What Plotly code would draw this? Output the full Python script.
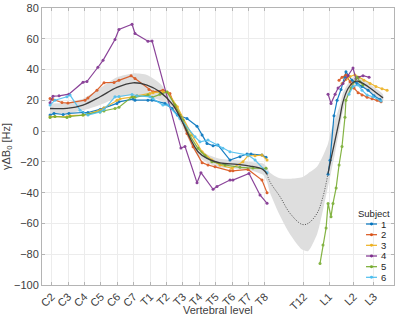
import plotly.graph_objects as go

# x positions in vertebral-level units (C2 = 0)
tick_pos = [0, 1, 2, 3, 4, 5, 6, 7, 8, 9, 10, 11, 12, 13, 15.38, 16.91, 18.42, 19.65]
tick_lab = ["C2", "C3", "C4", "C5", "C6", "C7", "T1", "T2", "T3", "T4", "T5", "T6", "T7", "T8",
            "T12", "L1", "L2", "L3"]

# ---- subject 1
s1_x_a = [-0.10, 0.14, 0.70, 1.05, 1.91, 2.21, 2.95, 3.19, 3.98, 4.10, 4.96, 5.08, 5.87, 6.12, 6.91,
          7.34, 7.66, 8.25, 8.86, 9.17, 9.47, 9.84, 10.14, 10.87, 11.48, 11.91, 12.15, 12.82, 13.07]
s1_y_a = [10.4, 11.5, 10.8, 11.5, 12.1, 12.1, 14.1, 15.0, 18.0, 19.0, 20.8, 20.1, 20.1, 20.1, 18.0,
          14.7, 10.4, 8.2, 3.2, -2.6, -8.0, -9.5, -9.1, -18.8, -16.7, -14.9, -14.9, -15.6, -17.0]
s1_x_b = [16.85, 16.97, 17.21, 17.40, 17.64, 17.88, 17.94, 18.31, 18.62, 18.92, 19.29, 19.65, 20.02]
s1_y_b = [-28, -19, 10, 20, 27, 35, 38.5, 33, 31, 29, 26.5, 23, 20.5]

# ---- subject 2
s2_x_a = [-0.10, 0.08, 0.63, 0.99, 2.03, 2.21, 2.76, 3.19, 3.80, 4.10, 4.84, 5.08, 5.93, 6.18, 6.78,
          7.21, 7.52, 7.82, 8.25, 8.62, 9.17, 9.53, 9.96, 10.87, 11.05, 11.97, 12.82, 13.13]
s2_y_a = [21.2, 20.5, 18.6, 18.2, 20.1, 21.5, 26.6, 31.5, 31.6, 33.0, 35.9, 34.2, 27.0, 25.5, 26.6,
          24.5, 15.8, 10.4, -1.5, -10.2, -20.5, -22.0, -23.2, -25.8, -25.8, -24.9, -31.8, -40.0]
s2_x_b = [17.52, 17.70, 17.94, 18.19, 18.43, 18.68, 18.92, 19.23, 19.53, 19.84, 20.08]
s2_y_b = [33, 35, 36.5, 32, 28, 25, 23.5, 22, 21, 20, 19]

# ---- subject 3
s3_x_a = [-0.10, 0.20, 0.93, 1.12, 1.91, 2.21, 2.95, 3.19, 3.98, 4.17, 4.96, 5.20, 5.99, 6.18, 6.78,
          7.09, 7.66, 8.55, 9.17, 9.77, 10.26, 10.99, 11.66, 11.97, 12.40, 12.82, 13.13]
s3_y_a = [9.3, 9.5, 9.3, 10.0, 10.4, 11.0, 13.6, 15.0, 20.1, 21.0, 22.3, 23.0, 24.5, 25.0, 25.5,
          25.0, 15.8, -2.6, -13.4, -18.8, -22.0, -24.2, -19.9, -16.0, -16.0, -15.6, -18.8]
s3_x_b = [17.70, 17.94, 18.19, 18.49, 18.74, 19.04, 19.41, 19.77, 20.14, 20.45]
s3_y_b = [31, 33.5, 35.5, 36.5, 35, 33, 31, 29, 27.5, 26.5]

# ---- subject 4
s4_x_a = [-0.10, 0.08, 0.45, 1.05, 1.91, 2.15, 2.82, 3.13, 3.86, 4.10, 4.90, 5.08, 5.87, 6.12, 7.88,
          8.13, 8.86, 9.10, 9.84, 10.08, 10.87, 11.05, 12.03, 12.70, 13.13]
s4_y_a = [18.4, 22.7, 22.9, 24.0, 31.8, 32.2, 41.5, 46.0, 59.5, 66.0, 69.4, 63.4, 58.4, 58.6, -11.0,
          -10.0, -33.5, -27.0, -37.8, -36.0, -31.8, -31.8, -27.5, -41.5, -46.9]
s4_x_b = [16.85, 17.03, 17.28, 17.46, 17.76, 18.07, 18.37, 18.55, 18.68, 18.98, 19.35]
s4_y_b = [24, 18, 24, 28, 31, 36, 41, 34, 35, 36, 35]

# ---- subject 5
s5_x_a = [-0.10, 0.20, 0.93, 1.12, 1.91, 2.21, 2.95, 3.19, 3.86, 4.10, 4.90, 5.08, 5.87, 6.12, 6.60,
          7.03, 7.52, 8.01, 8.43, 8.92, 9.35, 9.77, 10.57, 11.48, 12.27, 13.07]
s5_y_a = [8.9, 9.5, 8.9, 9.5, 10.4, 11.0, 12.5, 13.0, 14.7, 15.5, 22.3, 22.0, 23.4, 22.0, 24.0,
          25.5, 17.0, 7.1, -3.0, -11.2, -16.0, -19.9, -22.0, -23.5, -24.0, -24.2]
s5_x_b = [16.36, 16.54, 16.73, 16.85, 17.03, 17.15, 17.34, 17.52, 17.70, 17.88, 17.94, 18.25, 18.62,
          18.80, 18.98]
s5_y_b = [-86, -74, -63, -47, -55.6, -47, -37, -22, -10, 9, 20, 28, 35, 32, 30]

# ---- subject 6
s6_x_a = [-0.10, 0.20, 0.93, 1.12, 1.73, 2.21, 2.95, 3.19, 3.86, 4.10, 4.90, 5.20, 5.99, 6.18, 6.78,
          7.09, 7.82, 8.74, 9.04, 9.53, 10.08, 10.44, 10.87, 11.97, 12.40, 13.13]
s6_y_a = [16.9, 20.1, 22.3, 23.4, 13.6, 10.4, 12.5, 14.0, 22.3, 22.5, 23.8, 23.0, 22.3, 21.0, 16.9,
          16.9, 8.2, -3.7, -6.9, -5.8, -9.1, -11.2, -13.4, -15.6, -18.8, -27.0]
s6_x_b = [18.13, 18.37, 18.68, 18.92, 19.23, 19.59, 20.08]
s6_y_b = [24, 29, 30, 26.6, 23.4, 22.3, 19.5]

# ---- group mean and band
m_x = [-0.10, 0.93, 1.91, 2.95, 3.98, 4.96, 5.81, 6.60, 7.40, 8.01, 8.55, 8.92, 9.47, 10.26, 11.30,
       12.09, 12.89, 13.13, 13.31, 13.92, 14.53, 15.26, 15.63, 16.18, 16.54, 16.85, 17.03, 17.28,
       17.58, 17.76, 18.07, 18.37, 18.68, 18.98, 19.59, 20.20]
m_y = [14.7, 14.8, 16.9, 22.3, 28.4, 31.4, 29.9, 25.5, 16.9, 5.0, -6.9, -13.4, -17.7, -20.6, -21.6,
       -22.7, -25.0, -28.0, -33.0, -42.6, -53.4, -60.6, -60.0, -53.4, -42.6, -27.5, -18.0, -5.8,
       9.3, 19.0, 27.7, 31.6, 32.4, 31.0, 26.6, 21.6]
m_up = [18.0, 18.5, 21.0, 28.0, 35.0, 37.5, 36.5, 31.0, 20.0, 8.0, -4.0, -10.5, -15.0, -18.0, -19.0,
        -20.0, -21.0, -23.5, -27.0, -30.7, -31.0, -30.0, -27.5, -23.0, -16.0, -8.0, 0.0, 8.0,
        17.0, 25.0, 31.0, 35.0, 35.5, 34.0, 29.0, 24.0]
m_lo = [11.5, 11.5, 13.5, 17.0, 21.5, 23.5, 22.5, 20.0, 14.0, 2.0, -10.0, -16.0, -20.5, -23.5, -24.5,
        -25.5, -28.5, -33.0, -40.0, -55.0, -67.0, -77.0, -78.0, -67.0, -51.3, -36.0, -27.0, -14.0,
        3.0, 13.0, 23.5, 28.0, 29.5, 28.5, 24.0, 19.5]
gap_start = 13.13
gap_end = 16.85

names = ["1", "2", "3", "4", "5", "6"]
colors = ["#0072BD", "#D95319", "#EDB120", "#7E2F8E", "#77AC30", "#4DBEEE"]
series = [(s1_x_a, s1_y_a, s1_x_b, s1_y_b), (s2_x_a, s2_y_a, s2_x_b, s2_y_b),
          (s3_x_a, s3_y_a, s3_x_b, s3_y_b), (s4_x_a, s4_y_a, s4_x_b, s4_y_b),
          (s5_x_a, s5_y_a, s5_x_b, s5_y_b), (s6_x_a, s6_y_a, s6_x_b, s6_y_b)]

fig = go.Figure()

# band
fig.add_trace(go.Scatter(x=m_x + m_x[::-1], y=m_up + m_lo[::-1], fill="toself",
                         fillcolor="rgb(222,222,222)", line=dict(width=0, shape="spline", smoothing=0.6),
                         mode="lines", hoverinfo="skip", showlegend=False))

for nm, col, (xa, ya, xb, yb) in zip(names, colors, series):
    for xx, yy in [(xa, ya), (xb, yb)]:
        fig.add_trace(go.Scatter(x=xx, y=yy, mode="lines+markers", name=nm,
                                 showlegend=False, opacity=0.9,
                                 line=dict(color=col, width=1.2),
                                 marker=dict(color=col, size=3)))

# mean line: solid, dotted gap, solid
mx1 = [x for x in m_x if x <= gap_start]
my1 = [y for x, y in zip(m_x, m_y) if x <= gap_start]
mx2 = [x for x in m_x if gap_start <= x <= gap_end]
my2 = [y for x, y in zip(m_x, m_y) if gap_start <= x <= gap_end]
mx3 = [x for x in m_x if x >= gap_end]
my3 = [y for x, y in zip(m_x, m_y) if x >= gap_end]
fig.add_trace(go.Scatter(x=mx1, y=my1, mode="lines", showlegend=False,
                         line=dict(color="#3c3c3c", width=1.3, shape="spline")))
fig.add_trace(go.Scatter(x=mx2, y=my2, mode="lines", showlegend=False,
                         line=dict(color="#3c3c3c", width=0.9, dash="1px,1.5px", shape="spline")))
fig.add_trace(go.Scatter(x=mx3, y=my3, mode="lines", showlegend=False,
                         line=dict(color="#3c3c3c", width=1.3, shape="spline")))

# compact legend (title + sample line + label), in paper coordinates
leg_title = "Subject"
leg_y = [0.2202, 0.1816, 0.1433, 0.1047, 0.0661, 0.0278]
shapes = []
annotations = [dict(text=leg_title, x=0.9446, y=0.2599, xref="paper", yref="paper",
                    xanchor="center", yanchor="middle", showarrow=False,
                    font=dict(size=9.5, color="#262626"))]
for nm, col, yy in zip(names, colors, leg_y):
    shapes.append(dict(type="line", xref="paper", yref="paper", x0=0.9205, x1=0.9517, y0=yy, y1=yy,
                       line=dict(color=col, width=1.2)))
    shapes.append(dict(type="circle", xref="paper", yref="paper", x0=0.9318, x1=0.9404,
                       y0=yy - 0.0054, y1=yy + 0.0054, fillcolor=col, line=dict(color=col, width=0)))
    annotations.append(dict(text=nm, x=0.9560, y=yy, xref="paper", yref="paper",
                            xanchor="left", yanchor="middle", showarrow=False,
                            font=dict(size=9.5, color="#262626")))
annotations.append(dict(text="Vertebral level", x=0.5, y=-0.0903, xref="paper", yref="paper",
                        xanchor="center", yanchor="middle", showarrow=False,
                        font=dict(size=11, color="#404040")))

axis_common = dict(showline=True, linecolor="#b4b4b4", linewidth=1, mirror="ticks",
                   ticks="inside", ticklen=3, tickcolor="#b4b4b4",
                   showgrid=True, gridcolor="#ececec", gridwidth=1, zeroline=False,
                   tickfont=dict(size=11, color="#404040"), automargin=False)

fig.update_layout(
    width=400, height=323,
    margin=dict(l=42, r=6, t=8, b=38),
    paper_bgcolor="white", plot_bgcolor="white",
    font=dict(family="Liberation Sans, Arial, sans-serif", size=11, color="#404040"),
    showlegend=False,
    shapes=shapes,
    annotations=annotations,
    xaxis=dict(range=[-0.59, 20.87], tickmode="array", tickvals=tick_pos, ticktext=tick_lab,
               tickangle=-45, **axis_common),
    yaxis=dict(range=[-100, 80], tickmode="array", tickvals=list(range(-100, 81, 20)),
               title=dict(text="γΔB<sub>0</sub> [Hz]", font=dict(size=11, color="#404040"), standoff=4),
               **axis_common),
)

fig.write_html("out.html", config={"displayModeBar": False},
               post_script="document.body.style.margin='0';")
